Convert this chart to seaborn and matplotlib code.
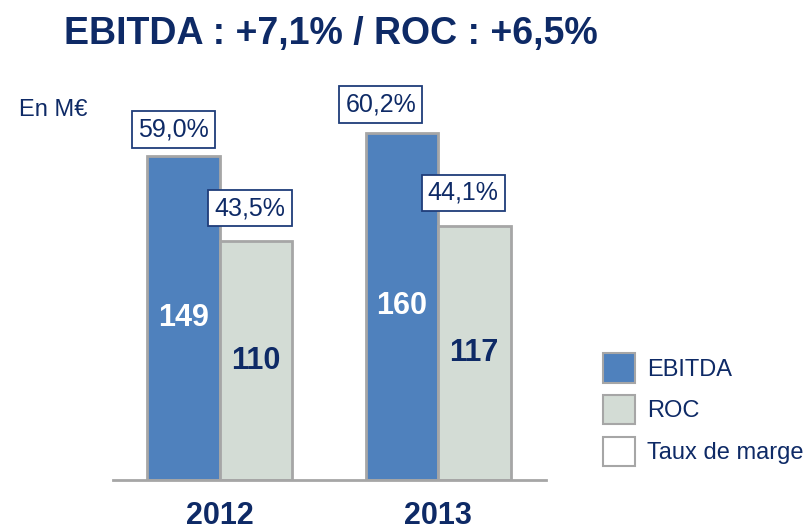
import pandas as pd
import matplotlib.pyplot as plt
import seaborn as sns
from matplotlib.patches import Patch

# data
years = ["2012", "2013"]
ebitda = [149, 160]
roc = [110, 117]
marge_ebitda = ["59,0%", "60,2%"]
marge_roc = ["43,5%", "44,1%"]

navy = "#0E2A66"
blue = "#4F81BD"
grey_green = "#D3DCD5"
edge = "#A6A6A6"

df = pd.DataFrame({
    "Année": years * 2,
    "Série": ["EBITDA"] * len(years) + ["ROC"] * len(years),
    "Valeur": ebitda + roc,
})

sns.set_style("white")
plt.rcParams["font.family"] = ["Liberation Sans", "DejaVu Sans"]

fig = plt.figure(figsize=(8.1, 5.32), dpi=100)
ax = fig.add_axes([0.1395, 0.0977, 0.5346, 0.7143])

sns.barplot(data=df, x="Année", y="Valeur", hue="Série",
            palette={"EBITDA": blue, "ROC": grey_green}, saturation=1,
            width=0.665, edgecolor=edge, linewidth=2, ax=ax, legend=False)

ax.set_ylim(0, 175)
ax.set_xlim(-0.49, 1.495)
ax.set_xlabel("")
ax.set_ylabel("")
ax.set_yticks([])
for s in ["left", "right", "top"]:
    ax.spines[s].set_visible(False)
ax.spines["bottom"].set_color(edge)
ax.spines["bottom"].set_linewidth(2)
ax.tick_params(axis="x", length=0, pad=15, labelsize=22, labelcolor=navy)
for t in ax.get_xticklabels():
    t.set_fontweight("bold")

# values inside bars
ax.bar_label(ax.containers[0], label_type="center", color="white",
             fontsize=22, fontweight="bold")
ax.bar_label(ax.containers[1], label_type="center", color=navy,
             fontsize=22, fontweight="bold")

# margin boxes above bars
offsets = [[(-10, 27), (-21, 28)], [(-6, 33), (-11, 33)]]
for k, (cont, labels) in enumerate(zip(ax.containers, [marge_ebitda, marge_roc])):
    for j, (bar, lab) in enumerate(zip(cont, labels)):
        dx, dy = offsets[k][j]
        ax.annotate(lab, (bar.get_x() + bar.get_width() / 2, bar.get_height()),
                    xytext=(dx, dy), textcoords="offset pixels",
                    ha="center", va="center", fontsize=18, color=navy,
                    bbox=dict(boxstyle="square,pad=0.25", fc="white",
                              ec="#1F3D7A", lw=1.3),
                    annotation_clip=False)

fig.text(0.4086, 1 - 34 / 532, "EBITDA : +7,1% / ROC : +6,5%", ha="center",
         va="center", fontsize=27, fontweight="bold", color=navy)
fig.text(0.0654, 1 - 110 / 532, "En M€", ha="center", va="center",
         fontsize=17, color=navy)

handles = [Patch(fc=blue, ec=edge, lw=1.5),
           Patch(fc=grey_green, ec=edge, lw=1.5),
           Patch(fc="white", ec=edge, lw=1.5)]
fig.legend(handles, ["EBITDA", "ROC", "Taux de marge"], loc="upper left",
           bbox_to_anchor=(0.7444, 1 - 353 / 532), frameon=False, fontsize=17,
           labelcolor=navy, handlelength=1.36, handleheight=1.55,
           labelspacing=0.52, handletextpad=0.5, borderpad=0,
           borderaxespad=0)

fig.savefig("out.png", dpi=100)
